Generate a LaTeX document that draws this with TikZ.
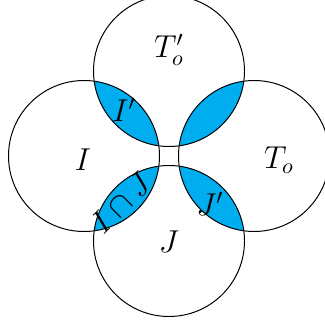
\documentclass[tikz,border=0pt]{standalone}
\definecolor{lens}{RGB}{0,173,239}
\tikzset{circ/.style={draw=black,line width=0.45pt},
  lbl/.style={inner sep=0pt,font=\fontsize{14}{17}\selectfont}}
\begin{document}
\begin{tikzpicture}[x=0.455pt,y=-0.455pt]
\useasboundingbox (0,0) rectangle (325,325);
\def\rr{75.5}
\coordinate (ct) at (169,71);
\coordinate (cb) at (169,241);
\coordinate (cl) at (84,156);
\coordinate (cr) at (254,156);
\begin{scope}
  \clip (ct) circle [radius=\rr];
  \fill[lens] (cl) circle [radius=\rr];
  \fill[lens] (cr) circle [radius=\rr];
\end{scope}
\begin{scope}
  \clip (cb) circle [radius=\rr];
  \fill[lens] (cl) circle [radius=\rr];
  \fill[lens] (cr) circle [radius=\rr];
\end{scope}
\draw[circ] (ct) circle [radius=\rr];
\draw[circ] (cb) circle [radius=\rr];
\draw[circ] (cl) circle [radius=\rr];
\draw[circ] (cr) circle [radius=\rr];
\node[lbl] (to2) at (169,50) {$T'_o$};
\node[lbl] (i) at (83,160) {$I$};
\node[lbl] (to) at (279,160) {$T_o$};
\node[lbl] (j) at (169,242) {$J$};
\node[lbl] (ip) at (124,110) {$I'$};
\node[lbl] (jp) at (210,204) {$J'$};
\node[lbl,rotate=45] (ij) at (121,203) {$I\cap J$};
\end{tikzpicture}
\end{document}
